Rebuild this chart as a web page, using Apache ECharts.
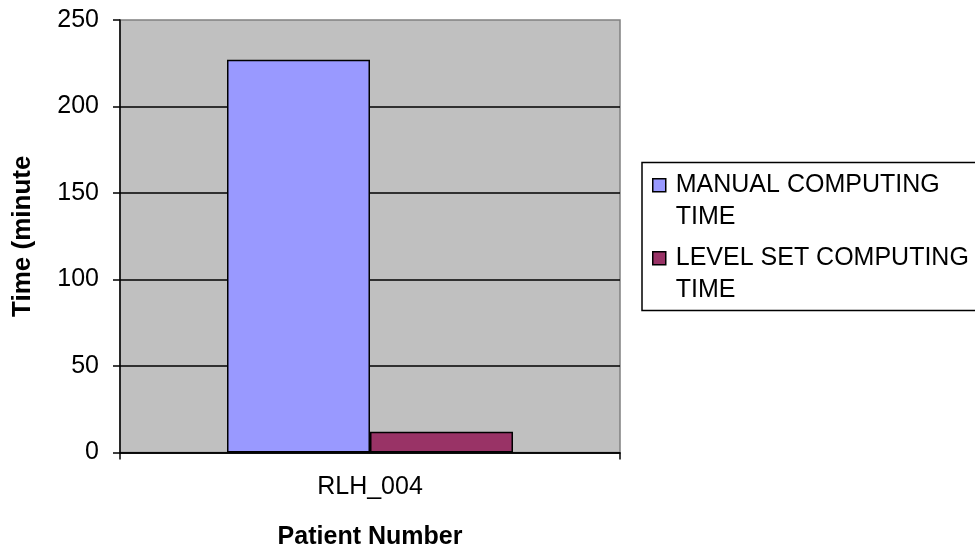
<!DOCTYPE html>
<html>
<head>
<meta charset="utf-8">
<script src="https://cdn.jsdelivr.net/npm/echarts@6/dist/echarts.min.js"></script>
<style>
  html, body { margin: 0; padding: 0; background: #fff; }
  #chart { width: 975px; height: 549px; }
</style>
</head>
<body>
<div id="chart"></div>
<script>
// Computing time per patient, in minutes
const categories = ['RLH_004'];
const seriesNames = ['MANUAL COMPUTING TIME', 'LEVEL SET COMPUTING TIME'];
const manualTime = [227];
const levelSetTime = [12];
const seriesColors = ['#9999FF', '#993366'];
const yTicks = { min: 0, max: 250, interval: 50 };

const FONT = "'Liberation Sans', Arial, sans-serif";

const chart = echarts.init(document.getElementById('chart'), null, { renderer: 'canvas' });

// One legend block per series; a leading empty line keeps the marker level with the first text line
function legendFor(idx, top) {
  return {
    data: [seriesNames[idx]],
    left: 652,
    top: top,
    padding: 0,
    icon: 'rect',
    itemWidth: 13,
    itemHeight: 13,
    itemStyle: { borderColor: '#000', borderWidth: 1.5 },
    formatter: (name) => ' \n' + name.replace(/ TIME$/, '\nTIME'),
    textStyle: {
      fontFamily: FONT,
      fontSize: 25,
      color: '#000',
      lineHeight: 31.5,
      padding: [0, 0, 0, 5]
    },
    selectedMode: false
  };
}

const option = {
  animation: false,
  backgroundColor: '#fff',
  grid: {
    left: 120,
    top: 20,
    right: 355,
    bottom: 96.5,
    outerBoundsMode: 'none',
    show: true,
    backgroundColor: '#C0C0C0',
    borderColor: '#808080',
    borderWidth: 1.5
  },
  legend: [legendFor(0, 138), legendFor(1, 211)],
  graphic: [{
    type: 'rect',
    shape: { x: 642, y: 162.5, width: 400, height: 148 },
    style: { fill: 'none', stroke: '#000', lineWidth: 1.5 },
    z: 0
  }],
  xAxis: {
    type: 'category',
    data: categories,
    name: 'Patient Number',
    nameLocation: 'middle',
    nameGap: 72,
    nameTextStyle: { fontFamily: FONT, fontSize: 25, fontWeight: 'bold', color: '#000', verticalAlign: 'top' },
    axisLine: { lineStyle: { color: '#000', width: 1.5 } },
    axisTick: { show: true, length: 7, lineStyle: { color: '#000', width: 1.5 } },
    axisLabel: { fontFamily: FONT, fontSize: 25, color: '#000', margin: 22 }
  },
  yAxis: {
    type: 'value',
    min: yTicks.min,
    max: yTicks.max,
    interval: yTicks.interval,
    name: 'Time (minute',
    nameLocation: 'middle',
    nameGap: 84,
    nameTextStyle: { fontFamily: FONT, fontSize: 26, fontWeight: 'bold', color: '#000' },
    axisLine: { show: true, lineStyle: { color: '#000', width: 1.5 } },
    axisTick: { show: true, length: 7, lineStyle: { color: '#000', width: 1.5 } },
    axisLabel: { fontFamily: FONT, fontSize: 25, color: '#000', margin: 21 },
    splitLine: { show: true, showMaxLine: false, lineStyle: { color: '#000', width: 1.5 } }
  },
  series: [
    {
      name: seriesNames[0],
      type: 'bar',
      data: manualTime,
      barWidth: 143,
      barGap: '0%',
      itemStyle: { color: seriesColors[0], borderColor: '#000', borderWidth: 1.5 }
    },
    {
      name: seriesNames[1],
      type: 'bar',
      data: levelSetTime,
      barWidth: 143,
      barGap: '0%',
      itemStyle: { color: seriesColors[1], borderColor: '#000', borderWidth: 1.5 }
    }
  ]
};

chart.setOption(option);
</script>
</body>
</html>
